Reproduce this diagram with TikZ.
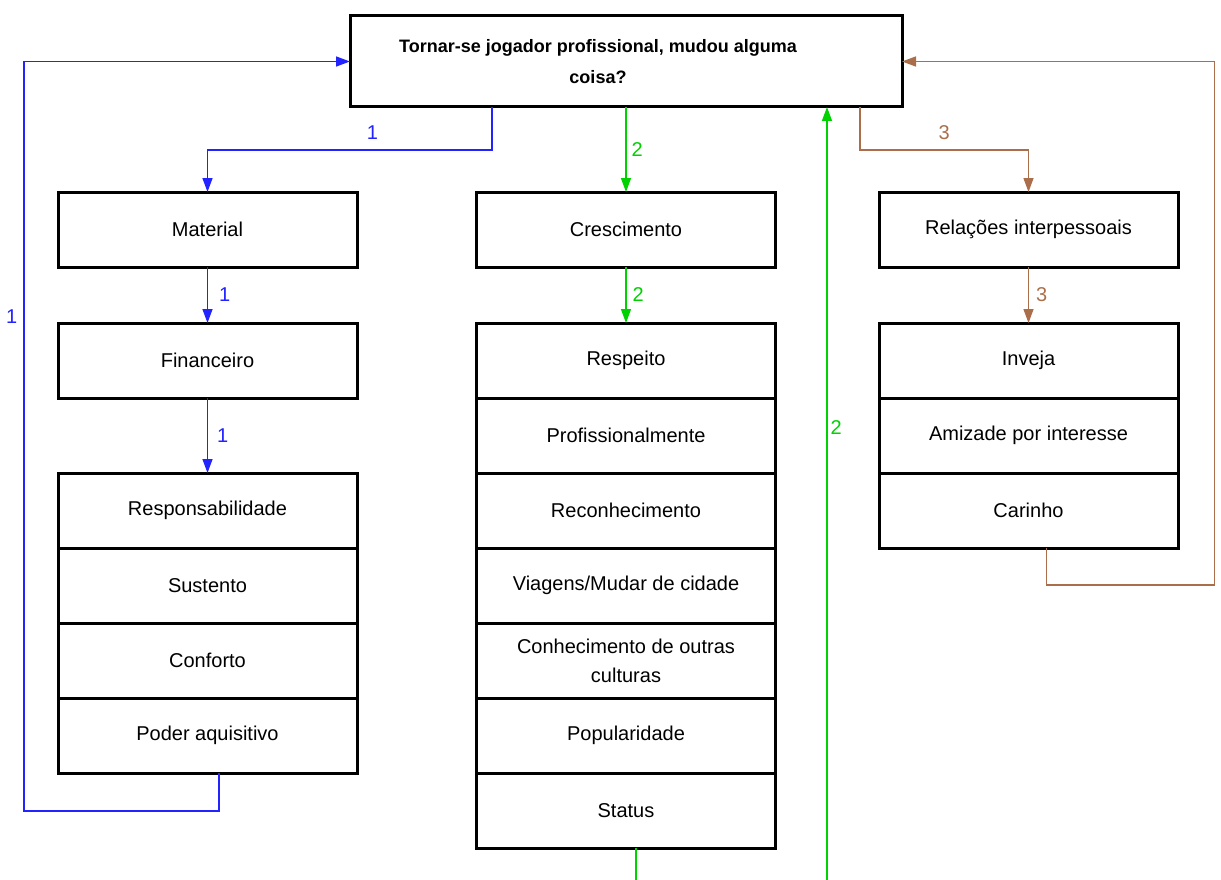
\documentclass[tikz,border=0pt]{standalone}
\usepackage{fontspec}
\setmainfont{Liberation Sans}
\usetikzlibrary{positioning,arrows.meta}

\definecolor{wireblue}{RGB}{35,35,255}
\definecolor{wiregreen}{RGB}{0,210,0}
\definecolor{wirebrown}{RGB}{170,110,75}

\begin{document}
\begin{tikzpicture}[x=1pt, y=-1pt, node distance=0pt,
    box/.style={draw, line width=3pt, outer sep=0pt, minimum width=299pt, minimum height=75pt,
                align=center, font=\fontsize{20}{29}\selectfont},
    question/.style={box, minimum width=552pt, minimum height=91pt},
    title/.style={align=center, font=\fontsize{18}{31}\selectfont\bfseries},
    wire/.style={line width=1.4pt, -{Triangle[length=14pt,width=10pt]}},
    num/.style={font=\fontsize{20}{24}\selectfont, inner sep=0pt}]

  \useasboundingbox (0,0) rectangle (1221,880);
  \clip (0,0) rectangle (1221,880);

  \node[question] (top) at (626,61.5) {};
  \node[title] (toptext) [xshift=-28pt] at (top) {Tornar-se jogador profissional, mudou alguma\\coisa?};

  % left column
  \node[box] (material) at (207.5,229.5) {Material};
  \node[box] (financeiro) [below=56pt of material] {Financeiro};
  \node[box] (resp) [below=75pt of financeiro] {Responsabilidade};
  \node[box] (sustento) [below=of resp] {Sustento};
  \node[box] (conforto) [below=of sustento] {Conforto};
  \node[box] (poder) [below=of conforto] {Poder aquisitivo};

  % middle column
  \node[box] (cresc) at (626,229.5) {Crescimento};
  \node[box] (respeito) [below=56pt of cresc] {Respeito};
  \node[box] (prof) [below=of respeito] {Profissionalmente};
  \node[box] (reconh) [below=of prof] {Reconhecimento};
  \node[box] (viagens) [below=of reconh] {Viagens/Mudar de cidade};
  \node[box] (culturas) [below=of viagens] {Conhecimento de outras\\culturas};
  \node[box] (popular) [below=of culturas] {Popularidade};
  \node[box] (status) [below=of popular] {Status};

  % right column
  \node[box] (relacoes) at (1028.5,229.5) {Relações interpessoais};
  \node[box] (inveja) [below=56pt of relacoes] {Inveja};
  \node[box] (amizade) [below=of inveja] {Amizade por interesse};
  \node[box] (carinho) [below=of amizade] {Carinho};

  % 1
  \draw[wire, wireblue] ([xshift=-134pt]top.south) -- ++(0,43)
    -| node[num, pos=.21, above=10pt] {1} (material.north);
  \path[wire, wireblue]
    (material) edge node[num, right=11pt] {1} (financeiro)
    (financeiro) edge node[num, right=9pt] {1} (resp);
  \draw[wire, wireblue] ([xshift=11.5pt]poder.south) |- ++(-195,38)
    |- node[num, pos=.33, left=6pt] {1} (top.west);

  % 2
  \path[wire, wiregreen]
    (top) edge node[num, right=5pt] {2} (cresc)
    (cresc) edge node[num, right=6pt] {2} (respeito);
  \draw[wire, wiregreen] ([xshift=10pt]status.south) -- ++(0,60)
    -| node[num, pos=.8, right=3pt] {2} ([xshift=201pt]top.south);

  % 3
  \draw[wire, wirebrown] ([xshift=234pt]top.south) -- ++(0,43)
    -| node[num, pos=.25, above=10pt] {3} (relacoes.north);
  \path[wire, wirebrown]
    (relacoes) edge node[num, right=7pt] {3} (inveja);
  \draw[wire, wirebrown] ([xshift=18pt]carinho.south) |- ++(168,37)
    |- node[num, pos=.3, right=6pt] {3} (top.east);
\end{tikzpicture}
\end{document}
